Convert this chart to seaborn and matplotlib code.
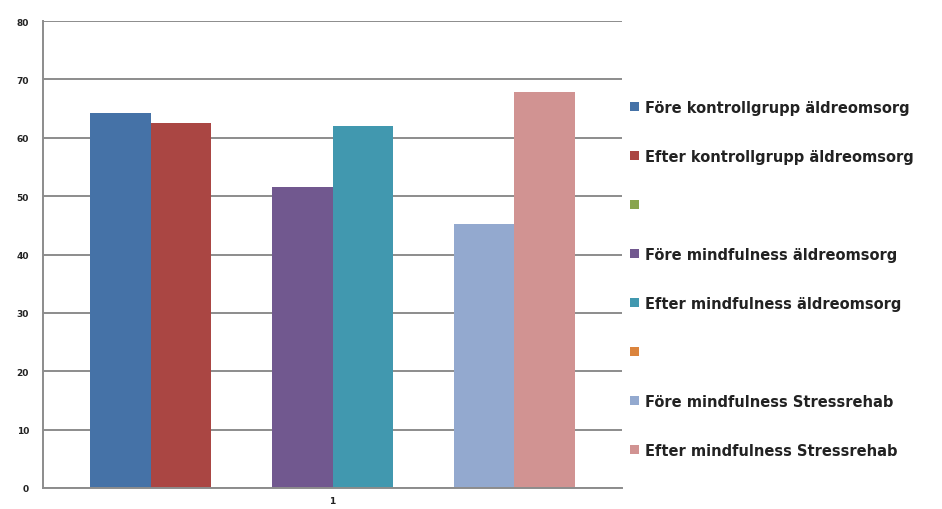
import matplotlib
matplotlib.use("Agg")
import matplotlib.pyplot as plt
from matplotlib.patches import Patch
import seaborn as sns
import pandas as pd
import numpy as np

# ---- data ----
category = ["1"]
series_labels = [
    "Före kontrollgrupp äldreomsorg",
    "Efter kontrollgrupp äldreomsorg",
    "",
    "Före mindfulness äldreomsorg",
    "Efter mindfulness äldreomsorg",
    " ",
    "Före mindfulness Stressrehab",
    "Efter mindfulness Stressrehab",
]
values = [64.3, 62.5, np.nan, 51.6, 62.0, np.nan, 45.2, 67.8]
colors = ["#4572A7", "#AA4643", "#89A54E", "#71588F",
          "#4198AF", "#DB843D", "#93A9CF", "#D19392"]
y_ticks = [0, 10, 20, 30, 40, 50, 60, 70, 80]

df = pd.DataFrame({
    "group": category * len(series_labels),
    "series": series_labels,
    "value": values,
})

sns.set_theme(style="white")
plt.rcParams["font.family"] = ["DejaVu Sans"]

fig = plt.figure(figsize=(9.42, 5.10), dpi=100)
ax = fig.add_axes([43 / 942, 21 / 510, (622 - 43) / 942, (489 - 22) / 510])

sns.barplot(data=df, x="group", y="value", hue="series",
            hue_order=series_labels, palette=colors, width=0.8376,
            errorbar=None, legend=False, saturation=1, linewidth=0,
            edgecolor="none", ax=ax)

ax.set_xlim(-0.5, 0.5)
ax.set_ylim(0, 80)
ax.set_yticks(y_ticks)
ax.set_yticklabels([str(t) for t in y_ticks], fontsize=6.5, color="#222222",
                   fontweight="bold")
for lbl in ax.get_xticklabels():
    lbl.set_fontweight("bold")
ax.set_xlabel("")
ax.set_ylabel("")
ax.tick_params(axis="x", labelsize=6.5, colors="#222222", length=0, pad=6)
ax.set_xticks([-0.5, 0.5], minor=True)
ax.tick_params(axis="x", which="minor", length=4, color="#888888", width=1.2, direction="out")
ax.tick_params(axis="y", length=6, color="#888888", width=1.2, direction="out", pad=4)

ax.yaxis.grid(True, color="#8c8c8c", linewidth=1.4)
ax.set_axisbelow(True)
for s in ["top", "right"]:
    ax.spines[s].set_visible(False)
for s in ["left", "bottom"]:
    ax.spines[s].set_color("#8c8c8c")
    ax.spines[s].set_linewidth(1.4)

handles = [Patch(facecolor=c, edgecolor="none") for c in colors]
leg = fig.legend(handles, series_labels, loc="upper left",
                 bbox_to_anchor=(630 / 942, (510 - 101) / 510), frameon=False,
                 prop={"size": 10.5, "weight": "bold"},
                 handlelength=0.6, handleheight=0.6, handletextpad=0.45,
                 labelspacing=2.33, borderaxespad=0, borderpad=0)
for t in leg.get_texts():
    t.set_color("#222222")

fig.savefig("out.png", dpi=100)
